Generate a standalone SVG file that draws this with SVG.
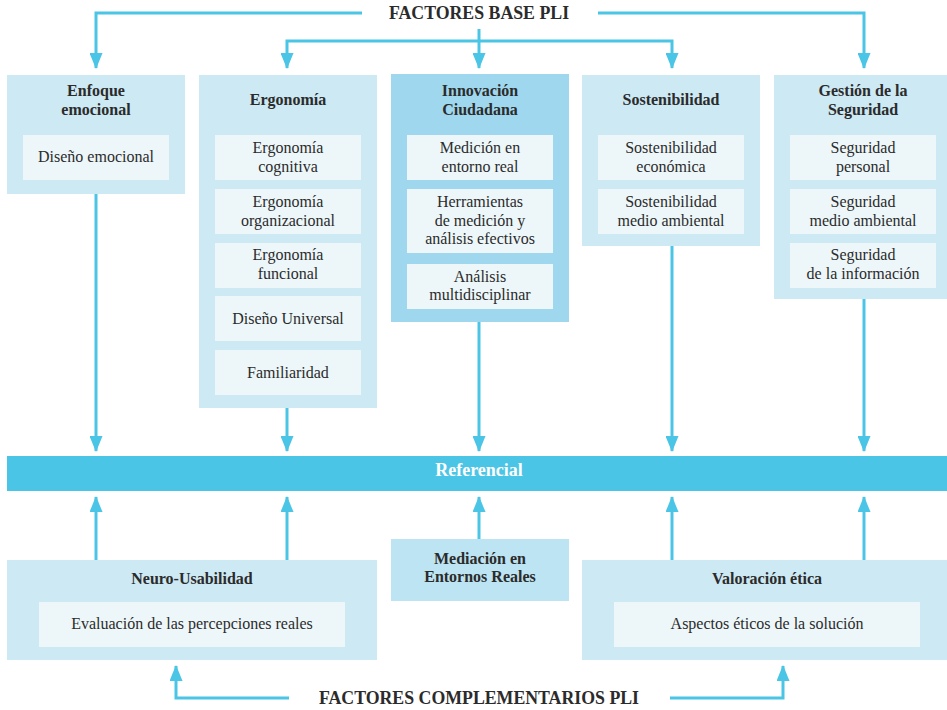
<svg xmlns="http://www.w3.org/2000/svg" width="947" height="710" viewBox="0 0 947 710">
<style>
.outer{fill:#cde9f4}
.dark{fill:#9fd8ee}
.med{fill:#bde4f2}
.inner{fill:#edf7fa}
.t{font-family:"Liberation Serif","DejaVu Serif",serif;font-size:16px;fill:#2b2b2b;text-anchor:middle}
.b{font-weight:bold}
.title{font-family:"Liberation Serif","DejaVu Serif",serif;font-size:17.8px;font-weight:bold;fill:#2b2b2b;text-anchor:middle}
.ref{font-family:"Liberation Serif","DejaVu Serif",serif;font-size:18px;font-weight:bold;fill:#ffffff;text-anchor:middle}
.c{fill:none;stroke:#4bc5e6;stroke-width:3}
</style>
<defs>
<marker id="ah" viewBox="0 0 16 13" refX="15" refY="6.5" markerWidth="16" markerHeight="13" markerUnits="userSpaceOnUse" orient="auto">
<path d="M0,0 L16,6.5 L0,13 Z" fill="#4bc5e6"/>
</marker>
</defs>
<rect width="947" height="710" fill="#ffffff"/>

<g id="title-base"><text class="title" x="479" y="19">FACTORES BASE PLI</text></g>

<g id="enfoque">
<rect class="outer" x="7" y="75" width="178" height="119"/>
<text class="t b" x="96" y="96">Enfoque</text>
<text class="t b" x="96" y="115">emocional</text>
<rect class="inner" x="23" y="135" width="146" height="45"/>
<text class="t" x="96" y="162">Diseño emocional</text>
</g>

<g id="ergonomia">
<rect class="outer" x="199" y="75" width="178" height="333"/>
<text class="t b" x="288" y="105">Ergonomía</text>
<rect class="inner" x="215" y="135" width="146" height="45"/>
<text class="t" x="288" y="153">Ergonomía</text>
<text class="t" x="288" y="172">cognitiva</text>
<rect class="inner" x="215" y="189" width="146" height="45"/>
<text class="t" x="288" y="207">Ergonomía</text>
<text class="t" x="288" y="226">organizacional</text>
<rect class="inner" x="215" y="243" width="146" height="45"/>
<text class="t" x="288" y="260">Ergonomía</text>
<text class="t" x="288" y="279">funcional</text>
<rect class="inner" x="215" y="296" width="146" height="45"/>
<text class="t" x="288" y="324">Diseño Universal</text>
<rect class="inner" x="215" y="350" width="146" height="45"/>
<text class="t" x="288" y="378">Familiaridad</text>
</g>

<g id="innovacion">
<rect class="dark" x="391" y="74" width="178" height="248"/>
<text class="t b" x="480" y="96">Innovación</text>
<text class="t b" x="480" y="115">Ciudadana</text>
<rect class="inner" x="407" y="135" width="146" height="45"/>
<text class="t" x="480" y="153">Medición en</text>
<text class="t" x="480" y="172">entorno real</text>
<rect class="inner" x="407" y="189" width="146" height="64"/>
<text class="t" x="480" y="207">Herramientas</text>
<text class="t" x="480" y="226">de medición y</text>
<text class="t" x="480" y="244">análisis efectivos</text>
<rect class="inner" x="407" y="264" width="146" height="45"/>
<text class="t" x="480" y="282">Análisis</text>
<text class="t" x="480" y="300">multidisciplinar</text>
</g>

<g id="sostenibilidad">
<rect class="outer" x="582" y="75" width="178" height="171"/>
<text class="t b" x="671" y="105">Sostenibilidad</text>
<rect class="inner" x="598" y="135" width="146" height="45"/>
<text class="t" x="671" y="153">Sostenibilidad</text>
<text class="t" x="671" y="172">económica</text>
<rect class="inner" x="598" y="189" width="146" height="45"/>
<text class="t" x="671" y="207">Sostenibilidad</text>
<text class="t" x="671" y="226">medio ambiental</text>
</g>

<g id="gestion">
<rect class="outer" x="774" y="75" width="173" height="224"/>
<text class="t b" x="863" y="96">Gestión de la</text>
<text class="t b" x="863" y="115">Seguridad</text>
<rect class="inner" x="790" y="135" width="146" height="45"/>
<text class="t" x="863" y="153">Seguridad</text>
<text class="t" x="863" y="172">personal</text>
<rect class="inner" x="790" y="189" width="146" height="45"/>
<text class="t" x="863" y="207">Seguridad</text>
<text class="t" x="863" y="226">medio ambiental</text>
<rect class="inner" x="790" y="243" width="146" height="45"/>
<text class="t" x="863" y="260">Seguridad</text>
<text class="t" x="863" y="279">de la información</text>
</g>

<g id="referencial">
<rect x="7" y="456" width="940" height="35" fill="#4bc5e6"/>
<text class="ref" x="479" y="476">Referencial</text>
</g>

<g id="neuro">
<rect class="outer" x="7" y="560" width="370" height="100"/>
<text class="t b" x="192" y="584">Neuro-Usabilidad</text>
<rect class="inner" x="39" y="602" width="306" height="45"/>
<text class="t" x="192" y="629">Evaluación de las percepciones reales</text>
</g>

<g id="mediacion">
<rect class="med" x="391" y="539" width="178" height="62"/>
<text class="t b" x="480" y="564">Mediación en</text>
<text class="t b" x="480" y="582">Entornos Reales</text>
</g>

<g id="valoracion">
<rect class="outer" x="582" y="560" width="365" height="100"/>
<text class="t b" x="767" y="584">Valoración ética</text>
<rect class="inner" x="614" y="602" width="306" height="45"/>
<text class="t" x="767" y="629">Aspectos éticos de la solución</text>
</g>

<g id="title-comp"><text class="title" x="479" y="704">FACTORES COMPLEMENTARIOS PLI</text></g>

<g id="connectors">
<path class="c" d="M362,13 H96 V68" marker-end="url(#ah)"/>
<path class="c" d="M598,13 H864 V68" marker-end="url(#ah)"/>
<path class="c" d="M479,29 V68" marker-end="url(#ah)"/>
<path class="c" d="M479,41 H287 V68" marker-end="url(#ah)"/>
<path class="c" d="M479,41 H672 V68" marker-end="url(#ah)"/>
<path class="c" d="M96,194 V451" marker-end="url(#ah)"/>
<path class="c" d="M287,408 V451" marker-end="url(#ah)"/>
<path class="c" d="M479,322 V451" marker-end="url(#ah)"/>
<path class="c" d="M672,246 V451" marker-end="url(#ah)"/>
<path class="c" d="M864,299 V451" marker-end="url(#ah)"/>
<path class="c" d="M96,560 V497" marker-end="url(#ah)"/>
<path class="c" d="M287,560 V497" marker-end="url(#ah)"/>
<path class="c" d="M479,539 V497" marker-end="url(#ah)"/>
<path class="c" d="M672,560 V497" marker-end="url(#ah)"/>
<path class="c" d="M864,560 V497" marker-end="url(#ah)"/>
<path class="c" d="M289,698 H176 V666" marker-end="url(#ah)"/>
<path class="c" d="M670,698 H783 V666" marker-end="url(#ah)"/>
</g>
</svg>
